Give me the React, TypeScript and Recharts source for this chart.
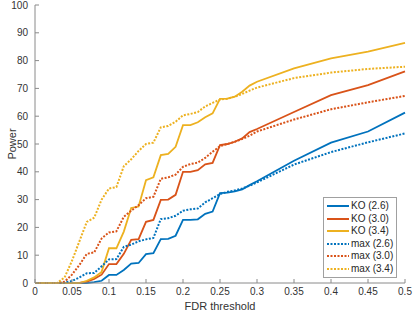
import React from "react";
import { LineChart, Line, XAxis, YAxis } from "recharts";

const fdr = [
  0, 0.01, 0.02, 0.03, 0.04, 0.05, 0.06, 0.07, 0.08, 0.09,
  0.1, 0.11, 0.12, 0.13, 0.14, 0.15, 0.16, 0.17, 0.18, 0.19,
  0.2, 0.21, 0.22, 0.23, 0.24, 0.25, 0.26, 0.27, 0.28, 0.29,
  0.3, 0.35, 0.4, 0.45, 0.5,
];

const ko26 = [
  0, 0, 0, 0, 0, 0, 0, 0, 0.3, 0.8,
  2.9, 2.9, 4.7, 7.0, 7.2, 10.4, 10.7, 15.8, 15.9, 17.0,
  22.7, 22.7, 22.9, 24.9, 25.7, 32.3, 32.5, 33.0, 33.7, 35.2,
  36.6, 44.0, 50.5, 54.5, 61.3,
];
const ko30 = [
  0, 0, 0, 0, 0, 0, 0, 0.5, 1.5, 3.0,
  6.8, 6.8, 10.5, 15.5, 15.8, 22.0, 22.7, 29.9, 30.0, 31.7,
  40.0, 40.0, 40.6, 42.7, 43.2, 49.6, 50.0, 50.8, 52.0, 54.3,
  55.4, 61.5, 67.6, 71.2, 76.1,
];
const ko34 = [
  0, 0, 0, 0, 0, 0, 0, 0.8, 2.0, 4.0,
  12.5, 12.5, 18.5, 27.0, 27.5, 37.0, 38.0, 46.0, 46.4, 49.0,
  56.8, 56.8, 57.8, 59.6, 61.0, 66.2, 66.3, 67.0, 68.8, 71.0,
  72.4, 77.2, 80.8, 83.2, 86.4,
];
const max26 = [
  0, 0, 0, 0, 0.2, 0.7, 2.0, 3.5, 3.6, 6.0,
  8.5, 8.6, 13.0, 13.8, 15.0, 15.7, 16.2, 23.0, 23.3, 24.2,
  26.0, 26.5, 26.8, 29.0, 30.5, 32.0, 32.8, 33.3, 34.0, 35.0,
  36.2, 42.6, 47.1, 50.6, 53.8,
];
const max30 = [
  0, 0, 0, 0, 0.5, 3.0, 6.5, 10.5, 11.0, 16.0,
  18.2, 18.6, 23.8, 26.0, 28.0, 30.5, 31.0, 37.5, 38.0, 39.0,
  41.8, 42.8, 43.3, 45.0, 47.2, 49.2, 50.0, 50.8, 51.8, 53.0,
  54.5, 58.8, 62.5, 65.0, 67.3,
];
const max34 = [
  0, 0, 0, 0, 2.0, 8.0, 15.0, 22.0, 23.5, 30.0,
  34.0, 34.5, 42.0, 44.5, 47.5, 50.0, 50.5, 56.0, 56.5, 58.0,
  60.3, 60.8, 61.5, 63.5, 64.8, 66.0, 66.3, 67.0, 68.0, 69.2,
  70.3, 73.7, 75.7, 77.0, 77.8,
];

const xTicks = [0, 0.05, 0.1, 0.15, 0.2, 0.25, 0.3, 0.35, 0.4, 0.45, 0.5];
const yTicks = [0, 10, 20, 30, 40, 50, 60, 70, 80, 90, 100];

const BLUE = "#0072BD";
const ORANGE = "#D95319";
const YELLOW = "#EDB120";

const series = [
  { key: "ko26", name: "KO (2.6)", values: ko26, color: BLUE, dotted: false },
  { key: "ko30", name: "KO (3.0)", values: ko30, color: ORANGE, dotted: false },
  { key: "ko34", name: "KO (3.4)", values: ko34, color: YELLOW, dotted: false },
  { key: "max26", name: "max (2.6)", values: max26, color: BLUE, dotted: true },
  { key: "max30", name: "max (3.0)", values: max30, color: ORANGE, dotted: true },
  { key: "max34", name: "max (3.4)", values: max34, color: YELLOW, dotted: true },
];

const data = fdr.map((x, i) => {
  const row: Record<string, number> = { fdr: x };
  series.forEach((s) => {
    row[s.key] = s.values[i];
  });
  return row;
});

const FONT = "'Liberation Sans', Arial, sans-serif";
const AXIS = "#8a8a8a";
const TEXT = "#333";

// MATLAB style: tick marks point into the plot
const XTick = (props: any) => {
  const { x, y, payload } = props;
  const axisY = y - 5;
  return (
    <g>
      <line x1={x} y1={axisY} x2={x} y2={axisY - 4} stroke={AXIS} />
      <text x={x} y={y} dy="0.71em" textAnchor="middle" fontSize={10} fill={TEXT} fontFamily={FONT}>
        {payload.value}
      </text>
    </g>
  );
};

const YTick = (props: any) => {
  const { x, y, payload } = props;
  const axisX = x + 7;
  return (
    <g>
      <line x1={axisX} y1={y} x2={axisX + 4} y2={y} stroke={AXIS} />
      <text x={x} y={y} dy="0.355em" textAnchor="end" fontSize={10} fill={TEXT} fontFamily={FONT}>
        {payload.value}
      </text>
    </g>
  );
};

const LegendBox = () => (
  <div
    style={{
      position: "absolute",
      left: 323,
      top: 197,
      border: "1px solid #a0a0a0",
      background: "#fff",
      padding: "2px 3px",
      fontFamily: FONT,
      fontSize: 10,
      color: "#262626",
      whiteSpace: "nowrap",
      lineHeight: "12.5px",
    }}
  >
    {series.map((s) => (
      <div key={s.key} style={{ display: "flex", alignItems: "center", height: 12.5 }}>
        <svg width={22} height={6} style={{ marginRight: 2 }}>
          <line
            x1={0}
            y1={3}
            x2={22}
            y2={3}
            stroke={s.color}
            strokeWidth={2}
            strokeDasharray={s.dotted ? "2 1.5" : undefined}
          />
        </svg>
        <span>{s.name}</span>
      </div>
    ))}
  </div>
);

export default function App() {
  return (
    <div style={{ position: "absolute", left: 0, top: 0, width: 415, height: 312, background: "#fff" }}>
      <LineChart width={415} height={312} data={data} margin={{ top: 5, right: 10, left: 0, bottom: 0 }}>
        <XAxis
          dataKey="fdr"
          type="number"
          domain={[0, 0.5]}
          ticks={xTicks}
          interval={0}
          height={29}
          stroke={AXIS}
          tickSize={0}
          tickMargin={5}
          tick={<XTick />}
          label={{
            value: "FDR threshold",
            position: "insideBottom",
            offset: 2,
            fontSize: 11,
            fill: TEXT,
            fontFamily: FONT,
          }}
        />
        <YAxis
          type="number"
          domain={[0, 100]}
          ticks={yTicks}
          interval={0}
          width={35}
          stroke={AXIS}
          tickSize={0}
          tickMargin={7}
          tick={<YTick />}
          label={{
            content: (p: any) => {
              const vb = p.viewBox || { x: 0, y: 5, height: 278 };
              const cx = vb.x + 12;
              const cy = vb.y + vb.height / 2;
              return (
                <text
                  x={cx}
                  y={cy}
                  transform={`rotate(-90 ${cx} ${cy})`}
                  textAnchor="middle"
                  dominantBaseline="central"
                  fontSize={11}
                  fill={TEXT}
                  fontFamily={FONT}
                >
                  Power
                </text>
              );
            },
          }}
        />
        {series.map((s) => (
          <Line
            key={s.key}
            dataKey={s.key}
            name={s.name}
            type="linear"
            stroke={s.color}
            strokeWidth={s.dotted ? 2 : 1.8}
            strokeDasharray={s.dotted ? "2 1.5" : undefined}
            dot={false}
            activeDot={false}
            isAnimationActive={false}
          />
        ))}
      </LineChart>
      <LegendBox />
    </div>
  );
}
